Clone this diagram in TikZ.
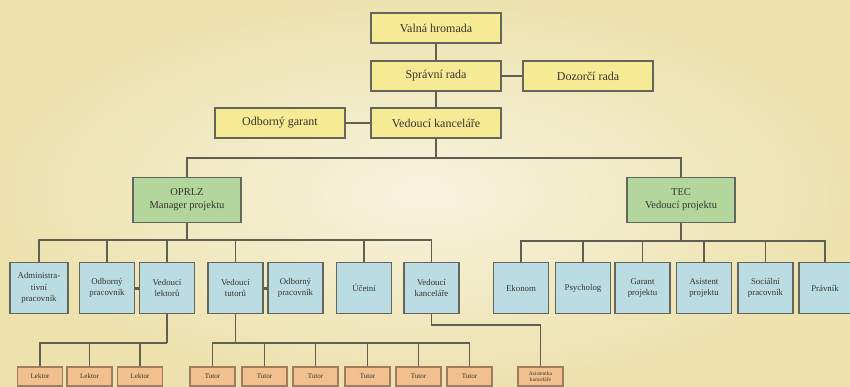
\documentclass[tikz,border=0pt]{standalone}
\usepackage{fontspec}
\setmainfont{Liberation Serif}
\definecolor{bgin}{HTML}{F7F3DE}
\definecolor{bgout}{HTML}{EDE2AE}
\definecolor{yfill}{HTML}{F7EA95}
\definecolor{gfill}{HTML}{B3D69C}
\definecolor{bfill}{HTML}{BCDCE3}
\definecolor{ofill}{HTML}{F2C08E}
\definecolor{boxline}{HTML}{65665B}
\definecolor{oline}{HTML}{A07C5E}
\definecolor{lineclr}{HTML}{606052}
\definecolor{txt}{HTML}{35352C}
\begin{document}
\begin{tikzpicture}[x=1pt,y=-1pt,
  box/.style={draw=boxline,line width=1.9pt,inner sep=1pt,align=center,text=txt},
  ybox/.style={box,fill=yfill,minimum width=130pt,minimum height=30pt,font=\fontsize{12}{14}\selectfont},
  gbox/.style={box,fill=gfill,minimum width=108pt,minimum height=45pt,font=\fontsize{10.5}{13}\selectfont},
  bbox/.style={box,fill=bfill,minimum width=55pt,minimum height=51pt,text width=52pt,font=\fontsize{8.8}{11.5}\selectfont},
  obox/.style={draw=oline,fill=ofill,line width=1.4pt,inner sep=0pt,align=center,minimum width=45pt,minimum height=19pt,text=txt,font=\fontsize{7}{7.5}\selectfont},
  conn/.style={draw=lineclr,line width=1.7pt},
  link/.style={draw=lineclr,line width=3pt}]
\useasboundingbox (0,0) rectangle (850,387);
\shade[inner color=bgin,outer color=bgout] (0,0) rectangle (850,387);

% top level
\node[ybox] (vh)   at (436,28)  {Valná hromada};
\node[ybox] (sr)   at (436,76)  {Správní rada};
\node[ybox] (dr)   at (588,76)  {Dozorčí rada};
\node[ybox] (vkan) at (436,123) {Vedoucí kanceláře};
\node[ybox] (og)   at (280,123) {Odborný garant};

\draw[conn] (vh) -- (sr);
\draw[conn] (sr) -- (vkan);
\draw[conn] (sr) -- (dr);
\draw[conn] (og) -- (vkan);

% projects
\node[gbox] (oprlz) at (187,200) {OPRLZ\\Manager projektu};
\node[gbox] (tec)   at (681,200) {TEC\\Vedoucí projektu};
\coordinate (b0) at (436,158);
\draw[conn] (vkan.south) -- (b0);
\draw[conn] (oprlz.north) |- (b0) -| (tec.north);

% OPRLZ children
\node[bbox,minimum width=58pt] (adm)  at (39,288)  {Administra-\\tivní\\pracovník};
\node[bbox] (odb1) at (107,288) {Odborný\\pracovník};
\node[bbox] (vl)   at (167,288) {Vedoucí\\lektorů};
\node[bbox] (vt)   at (235.5,288) {Vedoucí\\tutorů};
\node[bbox] (odb2) at (295.5,288) {Odborný\\pracovník};
\node[bbox] (uc)   at (364,288) {Účetní};
\node[bbox] (vkc)  at (431.5,288) {Vedoucí\\kanceláře};

\coordinate (b1) at (187,240);
\draw[conn] (oprlz.south) -- (b1);
\foreach \n in {adm,odb1,vl,vt,uc,vkc} \draw[conn] (\n.north) |- (b1);
\draw[link] (odb1.east) -- (vl.west);
\draw[link] (vt.east) -- (odb2.west);

% TEC children
\node[bbox] (eko) at (521,288) {Ekonom};
\node[bbox] (psy) at (583,288) {Psycholog};
\node[bbox] (gar) at (642.5,288) {Garant\\projektu};
\node[bbox] (asi) at (704,288) {Asistent\\projektu};
\node[bbox] (soc) at (765.5,288) {Sociální\\pracovník};
\node[bbox,minimum width=52pt,text width=50pt] (pra) at (825,288) {Právník};

\coordinate (b2) at (681,241);
\draw[conn] (tec.south) -- (b2);
\foreach \n in {eko,psy,gar,asi,soc,pra} \draw[conn] (\n.north) |- (b2);

% lektori
\node[obox] (l1) at (40,376.5)  {Lektor};
\node[obox] (l2) at (89.5,376.5) {Lektor};
\node[obox] (l3) at (140,376.5) {Lektor};
\coordinate (b3) at (167,343);
\draw[conn] (vl.south) -- (b3);
\foreach \n in {l1,l2,l3} \draw[conn] (\n.north) |- (b3);

% tutori
\node[obox] (t1) at (212.5,376.5) {Tutor};
\node[obox] (t2) at (264.5,376.5) {Tutor};
\node[obox] (t3) at (315.5,376.5) {Tutor};
\node[obox] (t4) at (367.5,376.5) {Tutor};
\node[obox] (t5) at (418.5,376.5) {Tutor};
\node[obox] (t6) at (469.5,376.5) {Tutor};
\coordinate (b4) at (235.5,343);
\draw[conn] (vt.south) -- (b4);
\foreach \n in {t1,t2,t3,t4,t5,t6} \draw[conn] (\n.north) |- (b4);

% asistentka
\node[obox,font=\fontsize{5.5}{6}\selectfont] (ak) at (540.5,376.5) {Asistentka\\kanceláře};
\coordinate (k1) at (431.5,325);
\draw[conn] (vkc.south) -- (k1) -| (ak.north);
\end{tikzpicture}
\end{document}
